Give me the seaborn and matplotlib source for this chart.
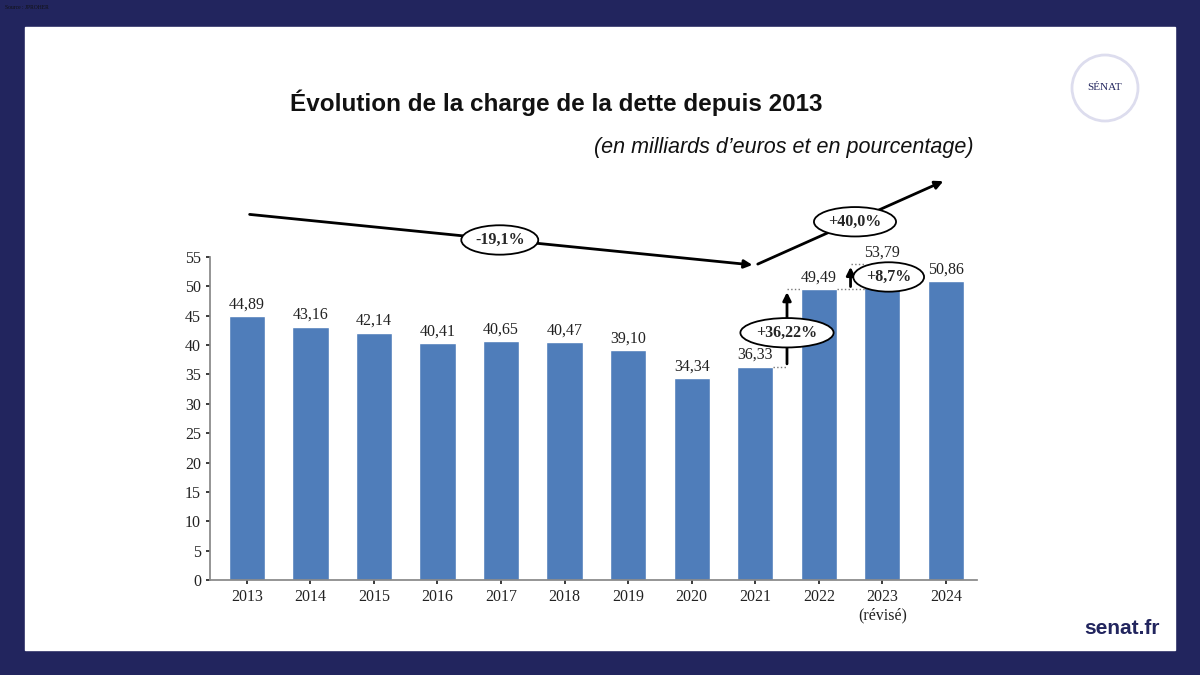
import matplotlib
matplotlib.use("Agg")
import matplotlib.pyplot as plt
import matplotlib.patches as mpatches
import seaborn as sns
import pandas as pd

years = ["2013", "2014", "2015", "2016", "2017", "2018", "2019", "2020", "2021", "2022", "2023\n(révisé)", "2024"]
values = [44.89, 43.16, 42.14, 40.41, 40.65, 40.47, 39.10, 34.34, 36.33, 49.49, 53.79, 50.86]
labels = ["44,89", "43,16", "42,14", "40,41", "40,65", "40,47", "39,10", "34,34", "36,33", "49,49", "53,79", "50,86"]

sns.set_theme(style="white")
plt.rcParams['font.family'] = ['Liberation Serif', 'DejaVu Serif']

navy = "#22255e"
fig = plt.figure(figsize=(12, 6.75), dpi=100, facecolor=navy)
fig.patches.append(mpatches.Rectangle((25/1200, 1-650/675), 1150/1200, 623/675,
                                      transform=fig.transFigure, color="white", zorder=-5))
fig.text(0.004, 0.993, "Source : JPROHER", fontsize=4, color="#111", va="top")

ax = fig.add_axes([210/1200, 1-580/675, 767/1200, 323/675])
ax.set_zorder(2)
ax.patch.set_alpha(0)
df = pd.DataFrame({"year": years, "value": values})
sns.barplot(data=df, x="year", y="value", color="#4f7dba", saturation=1, width=0.57, ax=ax)
ax.set_xlim(-0.58, 11.49)
ax.set_ylim(0, 55)
ax.set_yticks(range(0, 56, 5))
ax.set_xlabel("")
ax.set_ylabel("")
for s in ["top", "right"]:
    ax.spines[s].set_visible(False)
for s in ["left", "bottom"]:
    ax.spines[s].set_color("#888")
ax.tick_params(axis="both", labelsize=11.5, colors="#222", length=3, left=True, bottom=True)
for i, (v, t) in enumerate(zip(values, labels)):
    ax.text(i, v + 0.6, t, ha="center", va="bottom", fontsize=11.5, color="#222", clip_on=False)

arrow = dict(arrowstyle="-|>", color="black", lw=2, mutation_scale=12)
ax.annotate("", xy=(8.0, 53.6), xytext=(0.0, 62.3), arrowprops=arrow, annotation_clip=False)
ax.annotate("", xy=(11.0, 68.1), xytext=(8.0, 53.6), arrowprops=arrow, annotation_clip=False)
ax.annotate("", xy=(8.5, values[9]), xytext=(8.5, values[8]), arrowprops=arrow, annotation_clip=False)
ax.annotate("", xy=(9.5, values[10]), xytext=(9.5, values[9]), arrowprops=arrow, annotation_clip=False)
ax.plot([8.28, 8.5], [values[8]] * 2, ls=":", color="#777", lw=1)
ax.plot([8.5, 8.72], [values[9]] * 2, ls=":", color="#777", lw=1)
ax.plot([9.28, 9.72], [values[9]] * 2, ls=":", color="#777", lw=1)
ax.plot([9.5, 9.72], [values[10]] * 2, ls=":", color="#777", lw=1, clip_on=False)

ell = dict(boxstyle="ellipse,pad=0.15", fc="white", ec="black", lw=1.3)
for x, y, t in [(3.98, 57.9, "-19,1%"), (9.57, 61.0, "+40,0%"), (8.5, 42.1, "+36,22%"), (10.1, 51.6, "+8,7%")]:
    ax.text(x, y, t, ha="center", va="center", fontsize=11.5, fontweight="bold", bbox=ell, clip_on=False, zorder=5)

fig.text(556/1200, 1-103/675, "Évolution de la charge de la dette depuis 2013", ha="center", va="center",
         fontsize=17.5, fontweight="bold", family=["Liberation Sans", "DejaVu Sans"], color="#111")
fig.text(784/1200, 1-147/675, "(en milliards d\u2019euros et en pourcentage)", ha="center", va="center",
         fontsize=15.5, style="italic", family=["Liberation Sans", "DejaVu Sans"], color="#111")

fig.patches.append(mpatches.Ellipse((1105/1200, 1-88/675), 66/1200, 66/675, transform=fig.transFigure,
                                    fc="white", ec="#dde", lw=2))
fig.text(1105/1200, 1-88/675, "SÉNAT", ha="center", va="center", fontsize=8, color="#22255e")
fig.text(1122/1200, 1-628/675, "senat.fr", ha="center", va="center", fontsize=15, fontweight="bold",
         family=["Liberation Sans", "DejaVu Sans"], color=navy)

fig.savefig("out.png", dpi=100, facecolor=navy)
